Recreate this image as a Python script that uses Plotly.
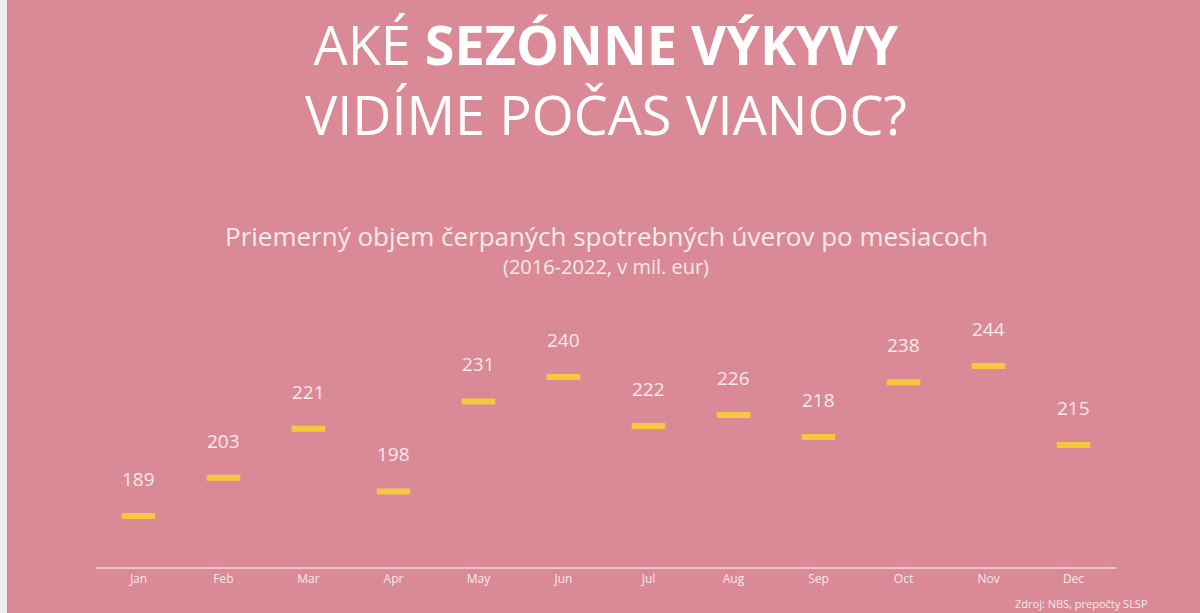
import plotly.graph_objects as go

months = ["Jan", "Feb", "Mar", "Apr", "May", "Jun", "Jul", "Aug", "Sep", "Oct", "Nov", "Dec"]
values = [189, 203, 221, 198, 231, 240, 222, 226, 218, 238, 244, 215]

BG = "#D98A96"
YELLOW = "#F6C83F"
LIGHT = "#FBE9EC"

fig = go.Figure()
fig.add_trace(go.Scatter(
    x=months, y=values, mode="markers",
    marker=dict(symbol="line-ew", size=24, line=dict(width=6, color=YELLOW), color=YELLOW),
    hoverinfo="x+y", showlegend=False,
))

for m, v in zip(months, values):
    fig.add_annotation(x=m, y=v, text=str(v), showarrow=False, yshift=37,
                       font=dict(family="Open Sans", size=19, color=LIGHT))

ML, MR, MT, MB = 96, 84, 300, 46
W, H = 1200, 613
PW, PH = W - ML - MR, H - MT - MB

def px(x):
    return (x - ML) / PW

def py(y):
    return (H - MB - y) / PH

fig.add_annotation(xref="paper", yref="paper", x=0.5, y=py(79), yanchor="middle",
                   text="AKÉ <b>SEZÓNNE VÝKYVY</b><br>VIDÍME POČAS VIANOC?", showarrow=False,
                   font=dict(family="Open Sans", size=54, color="white"))
fig.add_annotation(xref="paper", yref="paper", x=0.5, y=py(236), yanchor="middle",
                   text="Priemerný objem čerpaných spotrebných úverov po mesiacoch", showarrow=False,
                   font=dict(family="Open Sans", size=26, color=LIGHT))
fig.add_annotation(xref="paper", yref="paper", x=0.5, y=py(266), yanchor="middle",
                   text="(2016-2022, v mil. eur)", showarrow=False,
                   font=dict(family="Open Sans", size=20, color=LIGHT))
fig.add_annotation(xref="paper", yref="paper", x=px(1150), y=py(603), xanchor="right", yanchor="middle",
                   text="Zdroj: NBS, prepočty SLSP", showarrow=False,
                   font=dict(family="Open Sans", size=11, color=LIGHT))

fig.add_shape(type="rect", xref="paper", yref="paper", x0=px(0), x1=px(7), y0=py(H), y1=py(0),
              fillcolor="#EEEEF0", line=dict(width=0), layer="below")

fig.update_layout(
    width=W, height=H,
    margin=dict(l=ML, r=MR, t=MT, b=MB),
    paper_bgcolor=BG, plot_bgcolor=BG,
    xaxis=dict(type="category", range=[-0.5, 11.5], showline=True, linecolor="#F2C4CC", linewidth=2,
               showgrid=False, zeroline=False, ticks="",
               tickfont=dict(family="Open Sans", size=12, color=LIGHT)),
    yaxis=dict(range=[170.3, 268.2], visible=False, showgrid=False, zeroline=False),
)

fig.write_html("out.html")
